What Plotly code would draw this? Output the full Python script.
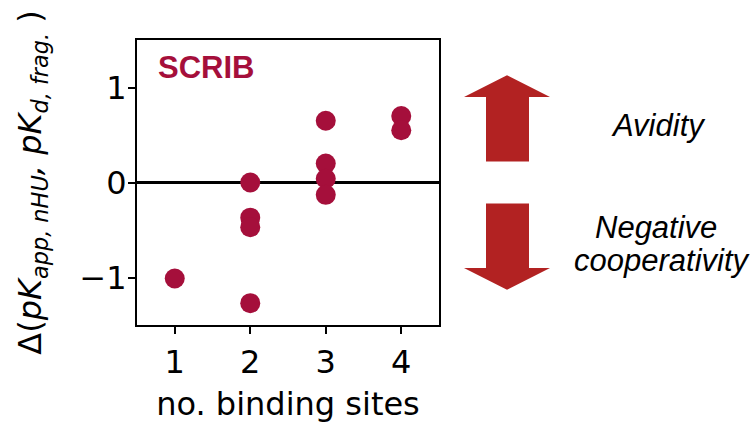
import plotly.graph_objects as go

# Binding-site count and measured shift for each construct
binding_sites = [1, 2, 2, 2, 2, 3, 3, 3, 3, 4, 4]
delta_pk = [-1.01, 0.0, -0.37, -0.47, -1.27, 0.65, 0.20, 0.04, -0.13, 0.70, 0.55]

x_ticks = [1, 2, 3, 4]
y_ticks = [-1, 0, 1]

point_color = "#A50F3B"
arrow_color = "#B22222"
axis_font = "DejaVu Sans"
note_font = "Liberation Sans"

fig = go.Figure()
fig.add_trace(go.Scatter(
    x=binding_sites, y=delta_pk, mode="markers",
    marker=dict(size=20, color=point_color, line=dict(width=0)),
    showlegend=False, hoverinfo="x+y",
))

W, H = 750, 428
L, R, T, B = 137, 311, 40, 103


def px_x(p):
    # pixel column -> paper x
    return (p - L) / (W - L - R)


# Block arrows beside the plot (y in data units, x in paper units)
ax_l, ax_r = px_x(486), px_x(529)
hd_l, hd_r = px_x(464), px_x(550)
ctr = px_x(507)
up_path = (f"M {ax_l},0.22 L {ax_l},0.90 L {hd_l},0.90 L {ctr},1.13 "
           f"L {hd_r},0.90 L {ax_r},0.90 L {ax_r},0.22 Z")
down_path = (f"M {ax_l},-0.22 L {ax_l},-0.90 L {hd_l},-0.90 L {ctr},-1.13 "
             f"L {hd_r},-0.90 L {ax_r},-0.90 L {ax_r},-0.22 Z")
for pth in (up_path, down_path):
    fig.add_shape(type="path", path=pth, xref="paper", yref="y",
                  fillcolor=arrow_color, line=dict(width=0), layer="above")

note_style = dict(family=note_font, size=31, color="black")
fig.add_annotation(x=px_x(658), y=0.60, xref="paper", yref="y",
                   text="<i>Avidity</i>", showarrow=False,
                   xanchor="center", yanchor="middle", font=note_style)
fig.add_annotation(x=px_x(656), y=-0.47, xref="paper", yref="y",
                   text="<i>Negative</i>", showarrow=False,
                   xanchor="center", yanchor="middle", font=note_style)
fig.add_annotation(x=px_x(662), y=-0.82, xref="paper", yref="y",
                   text="<i>cooperativity</i>", showarrow=False,
                   xanchor="center", yanchor="middle", font=note_style)

# Panel label
fig.add_annotation(x=0.062, y=0.905, xref="paper", yref="paper",
                   text="<b>SCRIB</b>", showarrow=False,
                   xanchor="left", yanchor="middle",
                   font=dict(family=note_font, size=31, color=point_color))

axis_common = dict(
    showline=True, linecolor="black", linewidth=2, mirror=True,
    ticks="outside", ticklen=7, tickwidth=2, tickcolor="black",
    showgrid=False,
    tickfont=dict(family=axis_font, size=32, color="black"),
)

fig.update_xaxes(
    range=[0.5, 4.5], tickvals=x_ticks, ticktext=[str(v) for v in x_ticks],
    zeroline=False, ticklabelstandoff=1,
    title=dict(text="no. binding sites", standoff=12,
               font=dict(family=axis_font, size=32, color="black")),
    **axis_common,
)
fig.update_yaxes(
    range=[-1.5, 1.5], tickvals=y_ticks,
    zeroline=True, zerolinecolor="black", zerolinewidth=2.5,
    ticklabelstandoff=-5,
    title=dict(
        text=("Δ(<i>pK</i><sub><i>app, nHU</i></sub><i>, pK</i>"
              "<sub><i>d, frag.</i></sub> )"),
        standoff=28,
        font=dict(family=axis_font, size=32, color="black"),
    ),
    **axis_common,
)

fig.update_layout(
    width=W, height=H,
    margin=dict(l=L, r=R, t=T, b=B, pad=0),
    paper_bgcolor="white", plot_bgcolor="white",
)

fig.write_html("out.html")
